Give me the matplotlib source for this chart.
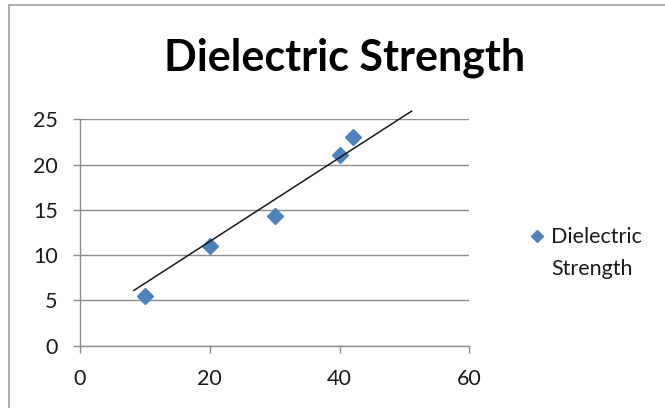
import matplotlib.pyplot as plt
from matplotlib.lines import Line2D
from matplotlib.patches import Rectangle

plt.rcParams['font.family'] = ['Lato', 'DejaVu Sans']

# data
x_vals = [10, 20, 30, 40, 42]
y_vals = [5.5, 11.0, 14.35, 21.05, 23.05]
trend_x = [8.3, 51.1]
trend_y = [6.1, 25.9]
x_ticks = [0, 20, 40, 60]
y_ticks = [0, 5, 10, 15, 20, 25]
title = 'Dielectric Strength'
series_name = 'Dielectric\nStrength'

blue = '#4F81BD'
grey = '#8C8C8C'

W, H = 665, 408
fig = plt.figure(figsize=(W / 100, H / 100), dpi=100)

# outer chart frame (only top/left visible in the crop)
fig.add_artist(Rectangle((9 / W, -0.05), 1.2, 1 - 5 / H + 0.05, transform=fig.transFigure,
                         fill=False, edgecolor='#A0A0A0', lw=1.2))

ax = fig.add_axes([80 / W, 1 - 345.7 / H, (469.3 - 80) / W, (345.7 - 119.3) / H])
ax.set_xlim(0, 60)
ax.set_ylim(0, 25)
ax.set_xticks(x_ticks)
ax.set_yticks(y_ticks)
ax.grid(axis='y', color=grey, lw=1)
ax.set_axisbelow(True)
for s in ['top', 'right']:
    ax.spines[s].set_visible(False)
for s in ['left', 'bottom']:
    ax.spines[s].set_color(grey)
    ax.spines[s].set_linewidth(1)
ax.tick_params(direction='out', length=5, width=1, color=grey, labelsize=15.5,
               labelcolor='#1A1A1A')
ax.tick_params(axis='y', pad=11)
ax.tick_params(axis='x', pad=11.5)

ax.plot(x_vals, y_vals, linestyle='none', marker='D', ms=8, color=blue, zorder=3)
ax.plot(trend_x, trend_y, color='#1A1A1A', lw=1.1, zorder=4, clip_on=False)

fig.text(344.5 / W, 1 - 70 / H, title, ha='center', va='baseline', fontsize=31, fontweight='bold')

# legend
fig.add_artist(Line2D([537 / W], [1 - 236 / H], marker='D', ms=6.5, color=blue,
                      transform=fig.transFigure))
fig.text(551 / W, 1 - 275 / H, series_name, ha='left', va='baseline', fontsize=15.5,
         linespacing=1.73, color='#1A1A1A')

fig.savefig('out.png', dpi=100)
